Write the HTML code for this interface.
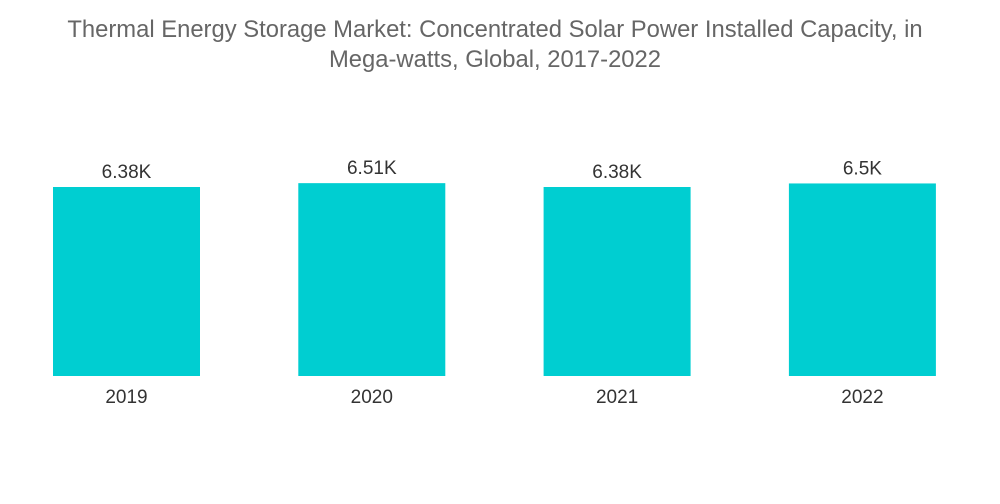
<!DOCTYPE html>
<html><head><meta charset="utf-8"><style>
body{margin:0;background:#fff;width:1000px;height:504px;overflow:hidden;font-family:"Liberation Sans",sans-serif}
#title{position:absolute;left:0;top:15px;width:990px;text-align:center;color:#666;font-size:23.8px;line-height:30px}
</style></head><body>
<div id="title">Thermal Energy Storage Market: Concentrated Solar Power Installed Capacity, in<br>Mega-watts, Global, 2017-2022</div>
<svg id="chart" width="1000" height="504" style="position:absolute;left:0;top:0"></svg>
<script>
const categories=["2019","2020","2021","2022"];
const values=[6380,6510,6380,6500];
const valueLabels=["6.38K","6.51K","6.38K","6.5K"];
const svg=document.getElementById('chart');
const NS='http://www.w3.org/2000/svg';
const baseY=376, pxPerUnit=189/6380;
const y=v=>baseY-v*pxPerUnit;
const band=245.3, x0=53, bw=147;
const x=i=>x0+i*band;
categories.forEach((c,i)=>{
  const r=document.createElementNS(NS,'rect');
  r.setAttribute('x',x(i));r.setAttribute('y',y(values[i]));
  r.setAttribute('width',bw);r.setAttribute('height',baseY-y(values[i]));
  r.setAttribute('fill','#00ced1');
  
  
  svg.appendChild(r);
  const t=document.createElementNS(NS,'text');
  t.setAttribute('x',x(i)+bw/2);t.setAttribute('y',y(values[i])-9);
  t.setAttribute('text-anchor','middle');t.setAttribute('font-size','19');t.setAttribute('fill','#333');
  t.textContent=valueLabels[i];
  
  
  svg.appendChild(t);
  const l=document.createElementNS(NS,'text');
  l.setAttribute('x',x(i)+bw/2);l.setAttribute('y',403);
  l.setAttribute('text-anchor','middle');l.setAttribute('font-size','19');l.setAttribute('fill','#333');
  l.textContent=c;
  
  
  svg.appendChild(l);
});
</script>
</body></html>
